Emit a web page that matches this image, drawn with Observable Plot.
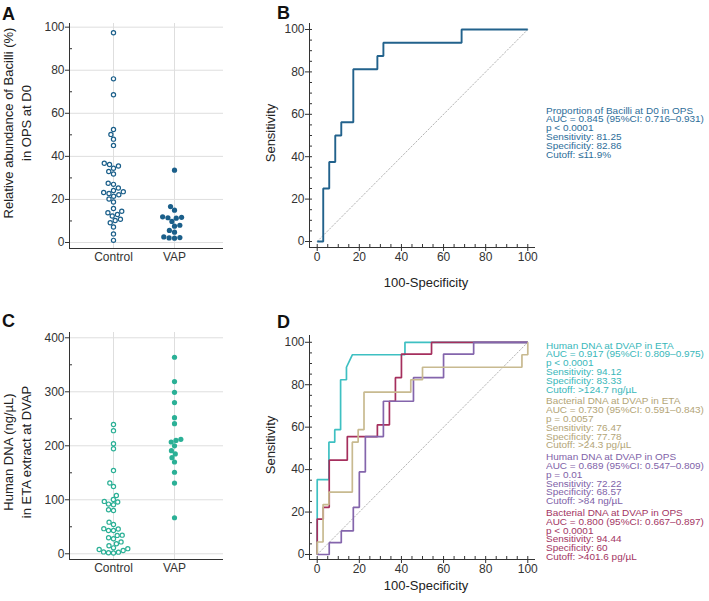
<!DOCTYPE html>
<html><head><meta charset="utf-8">
<script src="https://cdn.jsdelivr.net/npm/d3@7"></script>
<script src="https://cdn.jsdelivr.net/npm/@observablehq/plot@0.6"></script>
<style>
body{margin:0;background:#fff;}
#fig{position:relative;width:709px;height:601px;overflow:hidden;font-family:"Liberation Sans",Arial,sans-serif;color:#222;}
.letter{position:absolute;font-weight:bold;font-size:18px;line-height:18px;color:#111;}
.ytitle{position:absolute;font-size:13px;white-space:nowrap;transform:translate(-50%,-50%) rotate(-90deg);line-height:17.5px;text-align:center;color:#222;}
.xtitle{position:absolute;font-size:13px;white-space:nowrap;transform:translate(-50%,-50%);color:#222;}
.legend{position:absolute;white-space:nowrap;}
.legend .blk{margin-bottom:3px;}
.legend .ln{height:8.8px;line-height:8.8px;font-size:9.2px;transform:scaleX(1.087);transform-origin:left center;}
</style></head>
<body><div id="fig"></div>
<script>
// ---------- data ----------
const groups = ["Control", "VAP"];
const bacilliControl = [97.4, 76.0, 68.6, 52.5, 50.2, 48.0, 45.1, 36.8, 36.2, 35.5, 34.5, 33.0, 31.8,
  27.5, 27.0, 25.3, 24.2, 23.6, 23.2, 22.8, 22.2, 21.5, 20.2, 18.8, 15.8, 14.5, 13.8, 13.0, 12.3,
  10.8, 10.2, 9.2, 7.2, 4.0, 1.0];
const bacilliVAP = [33.6, 16.7, 15.0, 11.9, 11.7, 11.5, 11.3, 9.8, 8.0, 7.6, 5.6, 4.8, 2.6, 2.3, 2.1, 2.0];
const dnaControl = [239.5, 228, 203.7, 194.4, 154.3, 131, 124.7, 108, 100.6, 97, 96, 92, 91, 81.5, 80.2,
  58.6, 54.3, 46.5, 46, 43.2, 43, 34.5, 34, 29.6, 27.8, 22, 18.5, 15, 11, 9.5, 8, 6, 3.5, 3, 2, 1.5];
const dnaVAP = [364, 319, 299, 280, 252, 241, 212, 210, 207, 200, 191, 185, 178, 170, 151, 131, 66.7];

const rocB_fpr = [0, 2.86, 2.86, 5.71, 5.71, 8.57, 8.57, 11.43, 11.43, 17.14, 17.14, 28.57, 28.57, 31.43, 31.43, 68.57, 68.57, 100];
const rocB_tpr = [0, 0, 25, 25, 37.5, 37.5, 50, 50, 56.25, 56.25, 81.25, 81.25, 87.5, 87.5, 93.75, 93.75, 100, 100];

const rocHumanETA_fpr = [0, 0, 5.56, 5.56, 8.33, 8.33, 11.11, 11.11, 13.89, 13.89, 16.67, 41.67, 41.67, 100];
const rocHumanETA_tpr = [0, 35.29, 35.29, 52.94, 52.94, 58.82, 58.82, 82.35, 82.35, 88.24, 94.12, 94.12, 100, 100];
const rocBactETA_fpr = [0, 0, 2.78, 2.78, 5.56, 5.56, 16.67, 16.67, 19.44, 19.44, 22.22, 22.22, 44.44, 44.44, 50, 50, 97.22, 97.22, 100, 100];
const rocBactETA_tpr = [0, 5.88, 5.88, 23.53, 23.53, 29.41, 29.41, 52.94, 52.94, 58.82, 58.82, 76.47, 76.47, 82.35, 82.35, 88.24, 88.24, 94.12, 94.12, 100];
const rocHumanOPS_fpr = [0, 5.71, 5.71, 11.43, 11.43, 17.14, 17.14, 20, 20, 22.86, 22.86, 31.43, 31.43, 45.71, 45.71, 60, 60, 74.29, 74.29, 100];
const rocHumanOPS_tpr = [0, 0, 5.56, 5.56, 11.11, 11.11, 22.22, 22.22, 38.89, 38.89, 55.56, 55.56, 72.22, 72.22, 83.33, 83.33, 94.44, 94.44, 100, 100];
const rocBactOPS_fpr = [0, 0, 2.86, 2.86, 5.71, 5.71, 14.29, 14.29, 28.57, 28.57, 34.29, 34.29, 37.14, 37.14, 40, 40, 54.29, 54.29, 100];
const rocBactOPS_tpr = [0, 16.67, 16.67, 22.22, 22.22, 44.44, 44.44, 55.56, 55.56, 61.11, 61.11, 72.22, 72.22, 83.33, 83.33, 94.44, 94.44, 100, 100];
const diagonal = [0, 100];

const ticksPct = [0, 20, 40, 60, 80, 100];
const minorPctA = [10, 30, 50, 70, 90];
const ticksDNA = [0, 100, 200, 300, 400];
const minorDNA = [50, 150, 250, 350];
const ticksROC = [0, 20, 40, 60, 80, 100];
const minorROC = d3.range(0, 101, 5);

const legendB = ["Proportion of Bacilli at D0 in OPS", "AUC = 0.845 (95%CI: 0.716–0.931)", "p < 0.0001",
  "Sensitivity: 81.25", "Specificity: 82.86", "Cutoff: ≤11.9%"];
const legendD = [
  ["Human DNA at DVAP in ETA", "AUC = 0.917 (95%CI: 0.809–0.975)", "p < 0.0001", "Sensitivity: 94.12", "Specificity: 83.33", "Cutoff: >124.7 ng/µL"],
  ["Bacterial DNA at DVAP in ETA", "AUC = 0.730 (95%CI: 0.591–0.843)", "p = 0.0057", "Sensitivity: 76.47", "Specificity: 77.78", "Cutoff: >24.3 pg/µL"],
  ["Human DNA at DVAP in OPS", "AUC = 0.689 (95%CI: 0.547–0.809)", "p = 0.01", "Sensitivity: 72.22", "Specificity: 68.57", "Cutoff: >84 ng/µL"],
  ["Bacterial DNA at DVAP in OPS", "AUC = 0.800 (95%CI: 0.667–0.897)", "p < 0.0001", "Sensitivity: 94.44", "Specificity: 60", "Cutoff: >401.6 pg/µL"]
];

// ---------- styles ----------
const colA = "#1b5f8a";
const colC = "#2bb096";
const colB = "#22628c", colBtext = "#2c6d99";
const colD = ["#3ec0c2", "#c8ba90", "#8465ac", "#a52f5d"];
const colDtext = ["#38b7ba", "#b3a577", "#8062a8", "#a33563"];
const axisCol = "#333", gridCol = "#dedede";
const font = "Liberation Sans, Arial, sans-serif";

const fig = document.getElementById("fig");
function place(el, left, top) { el.style.position = "absolute"; el.style.left = left + "px"; el.style.top = top + "px"; fig.appendChild(el); return el; }
function div(cls, html, left, top) { const d = document.createElement("div"); d.className = cls; d.innerHTML = html; return place(d, left, top); }
function legendBlock(parent, lines, color) {
  const b = document.createElement("div"); b.className = "blk"; b.style.color = color;
  for (const t of lines) { const l = document.createElement("div"); l.className = "ln"; l.textContent = t; b.appendChild(l); }
  parent.appendChild(b);
}

// beeswarm offsets in pixels
function swarm(values, yPix, diam) {
  const idx = values.map((v, i) => i).sort((a, b) => values[a] - values[b]);
  const placed = [], off = new Array(values.length);
  for (const i of idx) {
    const py = yPix(values[i]);
    const near = placed.filter(p => Math.abs(p.y - py) < diam);
    const cands = [0];
    for (const p of near) { const dx = Math.sqrt(diam * diam - (p.y - py) ** 2); cands.push(p.x + dx, p.x - dx); }
    cands.sort((a, b) => Math.abs(a) - Math.abs(b) || a - b);
    let x = 0;
    for (const c of cands) { if (near.every(p => (p.x - c) ** 2 + (p.y - py) ** 2 >= diam * diam - 1e-6)) { x = c; break; } }
    placed.push({x, y: py}); off[i] = x;
  }
  return off;
}

function dotPanel({ctrl, vap, yDomain, major, minor, width, height, mt, mb, ml, mr, color, rC, rV, diam, pxPerCat, xDomain}) {
  const yPix = d3.scaleLinear().domain(yDomain).range([height - mb, mt]);
  const oc = swarm(ctrl, yPix, diam), ov = swarm(vap, yPix, diam);
  const dc = ctrl.map((v, i) => ({x: 0 + oc[i] / pxPerCat, v}));
  const dv = vap.map((v, i) => ({x: 1 + ov[i] / pxPerCat, v}));
  const innerW = width - ml - mr;
  return Plot.plot({
    width, height, marginLeft: ml, marginRight: mr, marginTop: mt, marginBottom: mb,
    x: {domain: xDomain}, y: {domain: yDomain},
    style: {fontFamily: font, fontSize: "12px", color: axisCol, background: "transparent", overflow: "visible"},
    marks: [
      Plot.gridY(major, {stroke: gridCol, strokeOpacity: 1}),
      Plot.gridX([0, 1], {stroke: gridCol, strokeOpacity: 1}),
      Plot.axisY(major, {tickSize: 4, tickPadding: 1, label: null, fontSize: 12}),
      Plot.tickY(minor, {y: d => d, insetRight: innerW - 3, stroke: axisCol}),
      Plot.axisX([0, 1], {tickSize: 0, tickPadding: 4, tickFormat: i => groups[i], label: null, fontSize: 12}),
      Plot.ruleX([xDomain[0]], {stroke: axisCol}),
      Plot.ruleY([yDomain[0]], {stroke: axisCol}),
      Plot.dot(dc, {x: "x", y: "v", r: rC, stroke: color, strokeWidth: 1.2, fill: "white"}),
      Plot.dot(dv, {x: "x", y: "v", r: rV, fill: color, stroke: "none"})
    ]
  });
}

function rocPanel({curves, yDomain, width, height, mt, mb, ml, mr, xDomain}) {
  const innerW = width - ml - mr, innerH = height - mt - mb;
  const marks = [
    Plot.axisY(ticksROC, {tickSize: 4, tickPadding: 1, label: null, fontSize: 12}),
    Plot.axisX(ticksROC, {tickSize: 4, tickPadding: 1, label: null, fontSize: 12}),
    Plot.tickY(minorROC, {y: d => d, insetRight: innerW - 3, stroke: axisCol}),
    Plot.tickX(minorROC, {x: d => d, insetTop: innerH - 3, stroke: axisCol}),
    Plot.ruleX([xDomain[0]], {stroke: axisCol}),
    Plot.ruleY([yDomain[0]], {stroke: axisCol}),
    Plot.line(diagonal, {x: d => d, y: d => d, stroke: "#b4b4b4", strokeWidth: 1, strokeDasharray: "1.5,2"})
  ];
  for (const c of curves) {
    const data = c.fpr.map((f, i) => ({f, t: c.tpr[i]}));
    marks.push(Plot.line(data, {x: "f", y: "t", stroke: c.color, strokeWidth: c.width, strokeLinejoin: "miter", strokeLinecap: "butt"}));
  }
  return Plot.plot({
    width, height, marginLeft: ml, marginRight: mr, marginTop: mt, marginBottom: mb,
    x: {domain: xDomain}, y: {domain: yDomain},
    style: {fontFamily: font, fontSize: "12px", color: axisCol, background: "transparent", overflow: "visible"},
    marks
  });
}

// ---------- Panel A ----------
place(dotPanel({ctrl: bacilliControl, vap: bacilliVAP, yDomain: [-2.79, 101.7], major: ticksPct, minor: minorPctA,
  width: 240, height: 290, mt: 23, mb: 42, ml: 69, mr: 17, color: colA, rC: 2.1, rV: 2.6, diam: 5.4,
  pxPerCat: 61, xDomain: [-0.721, 1.803]}), 0, 0);
div("letter", "A", 2, 5);
div("ytitle", "Relative abundance of Bacilli (%)<br>in OPS at D0", 17, 123);

// ---------- Panel B ----------
place(rocPanel({curves: [{fpr: rocB_fpr, tpr: rocB_tpr, color: colB, width: 1.9}],
  yDomain: [-2.83, 102.83], xDomain: [-3.66, 103.66], width: 310, height: 290, mt: 23, mb: 43, ml: 69, mr: 15}), 240, 0);
div("letter", "B", 277, 4);
div("ytitle", "Sensitivity", 271, 133);
div("xtitle", "100-Specificity", 426, 282);
const lgB = div("legend", "", 546, 106.6);
legendBlock(lgB, legendB, colBtext);

// ---------- Panel C ----------
place(dotPanel({ctrl: dnaControl, vap: dnaVAP, yDomain: [-10.6, 409.8], major: ticksDNA, minor: minorDNA,
  width: 240, height: 301, mt: 32, mb: 42, ml: 69, mr: 17, color: colC, rC: 2.1, rV: 2.6, diam: 5.0,
  pxPerCat: 61, xDomain: [-0.721, 1.803]}), 0, 300);
div("letter", "C", 2, 312);
div("ytitle", "Human DNA (ng/µL)<br>in ETA extract at DVAP", 17, 452);

// ---------- Panel D ----------
place(rocPanel({curves: [
    {fpr: rocHumanETA_fpr, tpr: rocHumanETA_tpr, color: colD[0], width: 1.7},
    {fpr: rocBactOPS_fpr, tpr: rocBactOPS_tpr, color: colD[3], width: 1.7},
    {fpr: rocHumanOPS_fpr, tpr: rocHumanOPS_tpr, color: colD[2], width: 1.7},
    {fpr: rocBactETA_fpr, tpr: rocBactETA_tpr, color: colD[1], width: 1.7}],
  yDomain: [-2.36, 103.2], xDomain: [-3.66, 103.66], width: 310, height: 301, mt: 35, mb: 42, ml: 69, mr: 15}), 240, 300);
div("letter", "D", 277, 313);
div("ytitle", "Sensitivity", 271, 445);
div("xtitle", "100-Specificity", 426, 585);
const lgD = div("legend", "", 546, 341.6);
legendD.forEach((blk, k) => legendBlock(lgD, blk, colDtext[k]));
</script></body></html>
